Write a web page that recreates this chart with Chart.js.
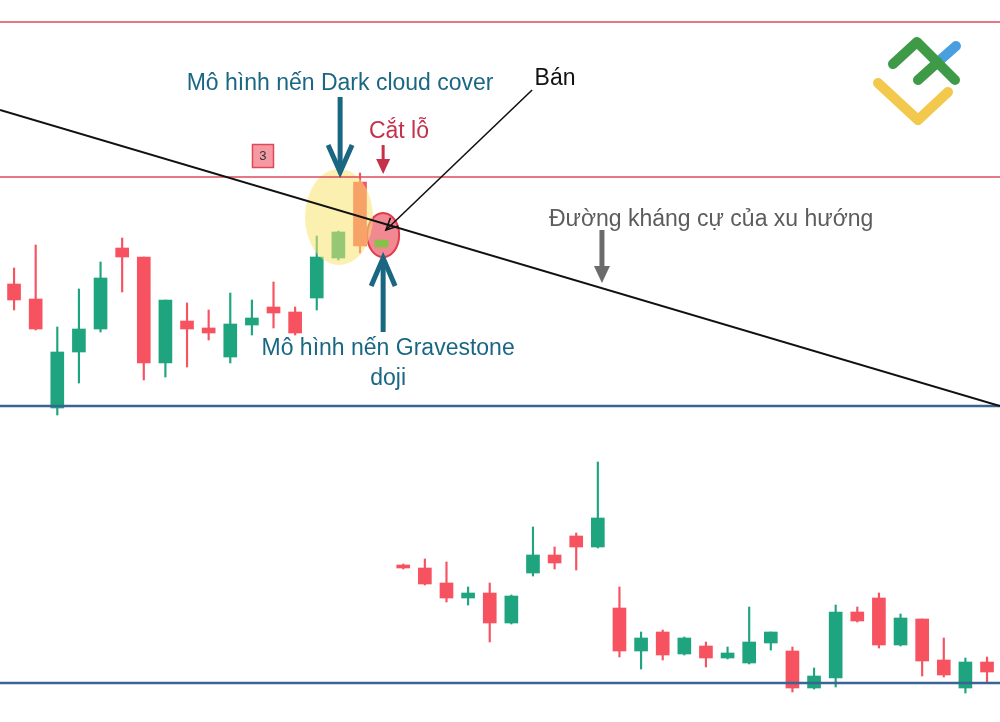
<!DOCTYPE html>
<html>
<head>
<meta charset="utf-8">
<script src="https://cdn.jsdelivr.net/npm/chart.js@4"></script>
<style>
  html, body { margin: 0; padding: 0; background: #fff; }
  #wrap { width: 1000px; height: 722px; }
</style>
</head>
<body>
<div id="wrap"><canvas id="chart" width="1000" height="722"></canvas></div>
<script>
// candle values (arbitrary price units)
const opens  = [438,423,314,370,393,474,465,359,401,394,365,397,415,410,424,464,540,475,
                157,154,139,124,129,99,149,167,186,175,114,71,90,68,76,64,59,79,71,34,44,110,124,77,103,62,34,60];
const closes = [422,393,370,393,444,465,359,422,393,389,398,404,409,389,465,490,476,482,
                154,138,124,129,99,126,167,159,175,204,71,84,67,84,64,69,80,90,34,46,110,101,77,104,61,47,60,50];
const highs  = [454,477,395,433,460,484,465,422,419,412,429,422,440,415,486,491,549,494,
                158,163,160,135,139,127,195,175,189,260,135,90,92,85,80,75,115,90,75,54,117,115,129,108,103,84,64,65];
const lows   = [412,392,307,339,390,430,342,345,355,382,359,387,394,387,412,462,469,474,
                153,137,120,117,80,98,146,153,152,174,65,53,62,67,55,63,58,72,30,33,35,100,74,76,46,45,29,40];

const stopLevels = [700, 545];      // red lines
const supportLevels = [316, 39];    // blue lines
const trendStart = { x: -0.65, y: 612 };
const trendEnd = { x: 45.6, y: 316 };
const dojiIndex = 17;

const RED = '#f7525f';
const GREEN = '#1ea47e';
const TEAL = '#1a6783';

const idx = opens.map((_, i) => i);
const candleColor = idx.map(i => i === dojiIndex ? '#86c24a' : (closes[i] >= opens[i] ? GREEN : RED));

function hLine(v, color, width) {
  return {
    type: 'line',
    data: [{ x: -0.65, y: v }, { x: 45.6, y: v }],
    borderColor: color, borderWidth: width, pointRadius: 0, order: 1
  };
}

function arrowV(ctx, x, y0, y1, color, w, hw, hl) {
  const dir = Math.sign(y1 - y0);
  ctx.save();
  ctx.strokeStyle = color; ctx.lineWidth = w; ctx.lineJoin = 'miter';
  ctx.beginPath(); ctx.moveTo(x, y0); ctx.lineTo(x, y1 - dir * 3); ctx.stroke();
  ctx.beginPath();
  ctx.moveTo(x - hw, y1 - dir * hl); ctx.lineTo(x, y1); ctx.lineTo(x + hw, y1 - dir * hl);
  ctx.stroke();
  ctx.restore();
}

function arrowFilled(ctx, x, y0, y1, color, w, hw, hl) {
  const dir = Math.sign(y1 - y0);
  ctx.save();
  ctx.strokeStyle = color; ctx.fillStyle = color; ctx.lineWidth = w;
  ctx.beginPath(); ctx.moveTo(x, y0); ctx.lineTo(x, y1 - dir * hl); ctx.stroke();
  ctx.beginPath();
  ctx.moveTo(x - hw, y1 - dir * hl); ctx.lineTo(x + hw, y1 - dir * hl); ctx.lineTo(x, y1);
  ctx.closePath(); ctx.fill();
  ctx.restore();
}

const annotations = {
  id: 'annotations',
  afterDatasetDraw(chart, args) {
    const ctx = chart.ctx;
    const xs = chart.scales.x, ys = chart.scales.y;
    if (args.index === 0) {
      // red circle round the gravestone doji
      ctx.save();
      ctx.beginPath();
      ctx.ellipse(xs.getPixelForValue(17.07), ys.getPixelForValue(487), 16, 22, 0, 0, Math.PI * 2);
      ctx.fillStyle = '#f28891'; ctx.fill();
      ctx.strokeStyle = '#e13b4e'; ctx.lineWidth = 2; ctx.stroke();
      ctx.restore();
    }
    if (args.index === 1) {
      // yellow highlight over the dark cloud cover pair
      ctx.save();
      ctx.beginPath();
      ctx.ellipse(xs.getPixelForValue(15.03), ys.getPixelForValue(505), 34, 48, 0, 0, Math.PI * 2);
      ctx.fillStyle = 'rgba(248,228,110,0.55)'; ctx.fill();
      ctx.restore();
    }
  },
  afterDraw(chart) {
    const ctx = chart.ctx;
    const xs = chart.scales.x, ys = chart.scales.y;
    const X = v => xs.getPixelForValue(v);
    const Y = v => ys.getPixelForValue(v);
    ctx.save();
    ctx.font = '23px "Liberation Sans", Arial, sans-serif';
    ctx.textAlign = 'center';
    ctx.textBaseline = 'alphabetic';

    ctx.fillStyle = TEAL;
    ctx.fillText('Mô hình nến Dark cloud cover', X(15.08), Y(632));
    arrowV(ctx, X(15.08), Y(625), Y(550), TEAL, 5, 12, 27);

    ctx.fillStyle = '#c5304b';
    ctx.fillText('Cắt lỗ', X(17.8), Y(584));
    arrowFilled(ctx, X(17.07), Y(577), Y(548), '#c5304b', 3, 7, 15);

    // small "3" marker
    const bx = X(11.49), by = Y(566.5);
    ctx.fillStyle = '#f59aa3'; ctx.strokeStyle = '#e0485a'; ctx.lineWidth = 1.5;
    ctx.fillRect(bx - 10, by - 11, 21, 23); ctx.strokeRect(bx - 10, by - 11, 21, 23);
    ctx.fillStyle = '#333'; ctx.font = '13px "Liberation Sans", Arial, sans-serif';
    ctx.textBaseline = 'middle'; ctx.fillText('3', bx + 0.5, by + 1);
    ctx.textBaseline = 'alphabetic';
    ctx.font = '23px "Liberation Sans", Arial, sans-serif';

    // "Bán" pointer
    ctx.fillStyle = '#111';
    ctx.fillText('Bán', X(25.02), Y(637));
    const x0 = X(23.96), y0 = Y(632), x1 = X(17.2), y1 = Y(492);
    ctx.strokeStyle = '#111'; ctx.lineWidth = 1.6;
    ctx.beginPath(); ctx.moveTo(x0, y0); ctx.lineTo(x1, y1); ctx.stroke();
    const ang = Math.atan2(y1 - y0, x1 - x0);
    ctx.beginPath();
    ctx.moveTo(x1 - 13 * Math.cos(ang - 0.45), y1 - 13 * Math.sin(ang - 0.45));
    ctx.lineTo(x1, y1);
    ctx.lineTo(x1 - 13 * Math.cos(ang + 0.45), y1 - 13 * Math.sin(ang + 0.45));
    ctx.stroke();

    ctx.fillStyle = '#5c5c5c';
    ctx.fillText('Đường kháng cự của xu hướng', X(32.24), Y(496));
    arrowFilled(ctx, X(27.19), Y(492), Y(439), '#6b6b6b', 5, 8, 17);

    arrowV(ctx, X(17.07), Y(390), Y(464), TEAL, 5, 12, 28);
    ctx.fillStyle = TEAL;
    ctx.fillText('Mô hình nến Gravestone', X(17.3), Y(367));
    ctx.fillText('doji', X(17.3), Y(337));

    // logo, top right
    const lx = chart.chartArea.right, ly = chart.chartArea.top;
    ctx.lineCap = 'round'; ctx.lineJoin = 'round'; ctx.lineWidth = 10;
    ctx.strokeStyle = '#f2c94c';
    ctx.beginPath(); ctx.moveTo(lx - 122, ly + 83); ctx.lineTo(lx - 82, ly + 120); ctx.lineTo(lx - 52, ly + 92); ctx.stroke();
    ctx.strokeStyle = '#4a9fe0';
    ctx.beginPath(); ctx.moveTo(lx - 61, ly + 61); ctx.lineTo(lx - 44, ly + 46); ctx.stroke();
    ctx.strokeStyle = '#3f9a47';
    ctx.beginPath(); ctx.moveTo(lx - 107, ly + 64); ctx.lineTo(lx - 83, ly + 42); ctx.lineTo(lx - 45, ly + 80); ctx.stroke();
    ctx.beginPath(); ctx.moveTo(lx - 82, ly + 80); ctx.lineTo(lx - 62, ly + 62); ctx.stroke();
    ctx.restore();
  }
};

new Chart(document.getElementById('chart'), {
  type: 'bar',
  data: {
    datasets: [
      {
        label: 'wicks',
        data: idx.map(i => ({ x: i, y: [lows[i], highs[i]] })),
        backgroundColor: candleColor,
        barThickness: 1.5, grouped: false, order: 3
      },
      {
        label: 'bodies',
        data: idx.map(i => ({ x: i, y: [opens[i], closes[i]] })),
        backgroundColor: candleColor,
        barThickness: 13, minBarLength: 2, grouped: false, order: 2
      },
      {
        type: 'line', label: 'trend',
        data: [trendStart, trendEnd],
        borderColor: '#111', borderWidth: 2, pointRadius: 0, order: 1
      },
      ...stopLevels.map(v => hLine(v, '#e04a5c', 1.6)),
      ...supportLevels.map(v => hLine(v, '#3a6494', 2.4))
    ]
  },
  options: {
    responsive: false,
    animation: false,
    layout: { padding: 0 },
    plugins: { legend: { display: false }, tooltip: { enabled: false } },
    scales: {
      x: { type: 'linear', min: -0.65, max: 45.6, offset: false, display: false },
      y: { type: 'linear', min: 0, max: 722, display: false }
    }
  },
  plugins: [annotations]
});
</script>
</body>
</html>
